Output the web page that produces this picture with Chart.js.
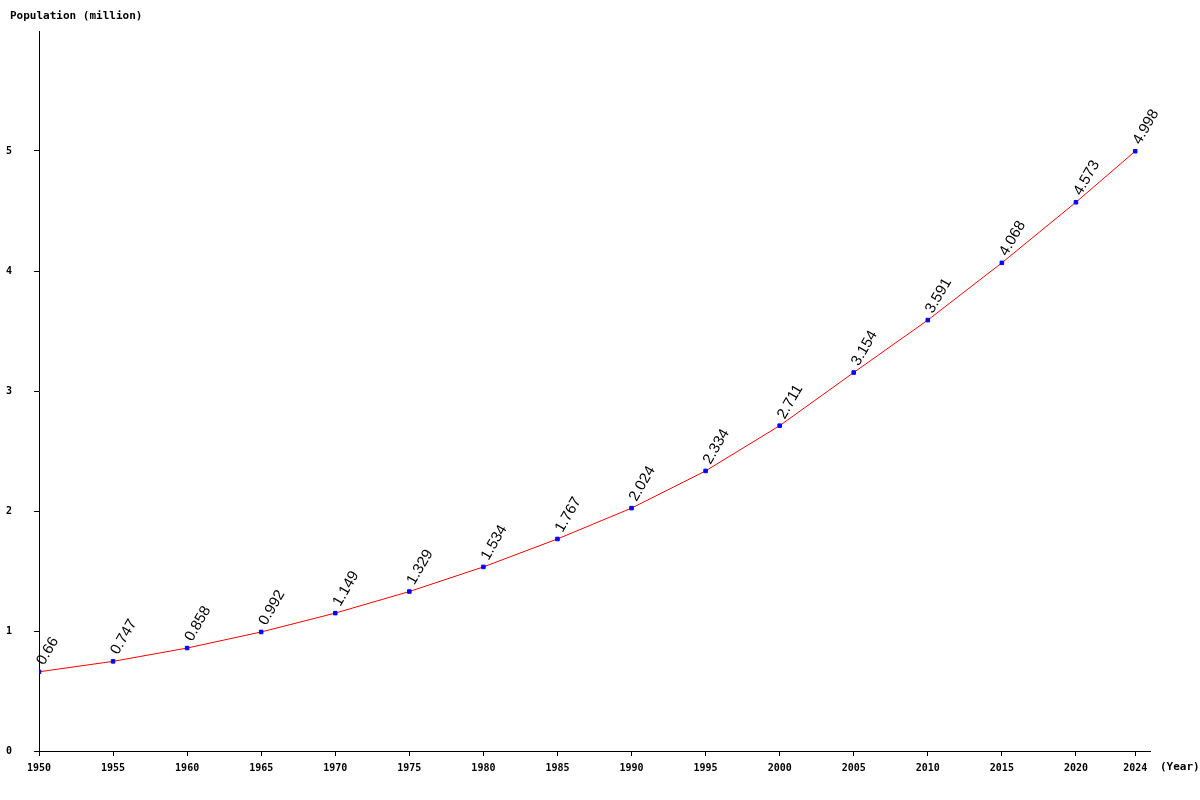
<!DOCTYPE html>
<html><head><meta charset="utf-8">
<script src="https://cdn.jsdelivr.net/npm/chart.js@4"></script>
<style>body{margin:0;background:#fff}#w{width:1200px;height:800px}</style>
</head><body><div id="w"><canvas id="c"></canvas></div>
<script>
const years=[1950,1955,1960,1965,1970,1975,1980,1985,1990,1995,2000,2005,2010,2015,2020,2024];
const values=[0.66,0.747,0.858,0.992,1.149,1.329,1.534,1.767,2.024,2.334,2.711,3.154,3.591,4.068,4.573,4.998];
const yTicks=[0,1,2,3,4,5];
const mono='bold 11px "DejaVu Sans Mono", monospace';
const extra={id:'extra',afterDatasetsDraw(ch){
  const c=ch.ctx,m=ch.getDatasetMeta(0);
  c.save();c.fillStyle='#000';c.font='15px "Liberation Sans", Arial, sans-serif';
  m.data.forEach((p,i)=>{c.save();c.translate(p.x+5,p.y-6);c.rotate(-Math.PI/3);c.textAlign='left';c.textBaseline='alphabetic';c.fillText(String(values[i]),0,0);c.restore();});
  c.font=mono;c.textAlign='left';c.textBaseline='middle';
  c.fillText('Population (million)',10,16);
  c.fillText('(Year)',1160,767);
  c.restore();}};
new Chart(document.getElementById('c'),{type:'line',
data:{datasets:[{data:years.map((y,i)=>({x:y,y:values[i]})),borderColor:'#ff0000',borderWidth:1,
pointBackgroundColor:'#0000ff',pointBorderColor:'#0000ff',pointStyle:'rect',pointRadius:2.5,tension:0}]},
options:{responsive:true,maintainAspectRatio:false,animation:false,
layout:{padding:{left:0,top:31,right:50,bottom:0}},
plugins:{legend:{display:false},tooltip:{enabled:false}},
scales:{
x:{type:'linear',min:1950,max:2025,afterFit:s=>{s.height=49;},
 afterBuildTicks:s=>{s.ticks=years.map(v=>({value:v}));},
 grid:{drawOnChartArea:false,tickLength:5,color:'#000'},border:{color:'#000'},
 ticks:{color:'#000',font:{family:'"DejaVu Sans Mono", monospace',size:10,weight:'bold'},maxRotation:0,autoSkip:false,padding:6,callback:v=>String(v)}},
y:{min:0,max:6,afterFit:s=>{s.width=39;},
 afterBuildTicks:s=>{s.ticks=yTicks.map(v=>({value:v}));},
 grid:{drawOnChartArea:false,tickLength:5,color:'#000'},border:{color:'#000'},
 ticks:{color:'#000',font:{family:'"DejaVu Sans Mono", monospace',size:10,weight:'bold'},padding:22}}
}},plugins:[extra]});
</script></body></html>
